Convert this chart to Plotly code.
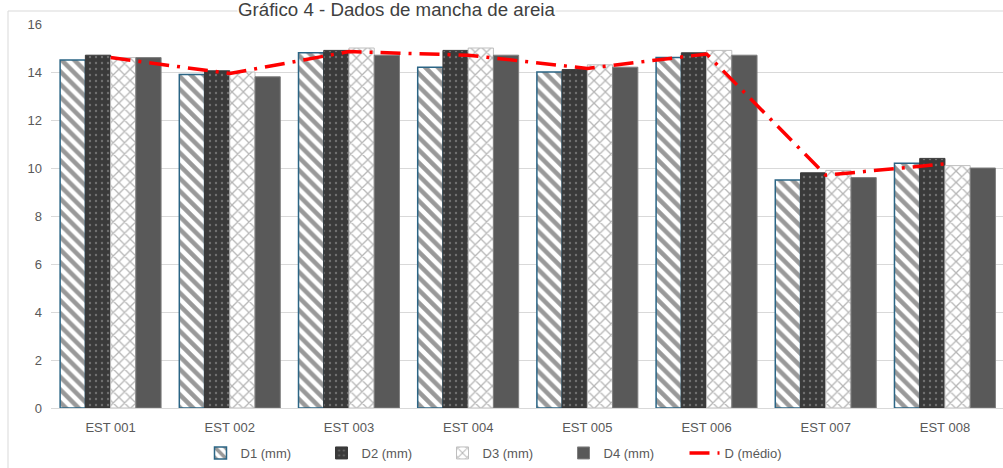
import plotly.graph_objects as go

# Station labels and measured diameters (mm)
estacoes = ["EST 001", "EST 002", "EST 003", "EST 004", "EST 005", "EST 006", "EST 007", "EST 008"]
d1 = [14.5, 13.9, 14.8, 14.2, 14.0, 14.6, 9.5, 10.2]
d2 = [14.7, 14.05, 14.9, 14.9, 14.1, 14.8, 9.8, 10.4]
d3 = [14.6, 14.0, 15.0, 15.0, 14.3, 14.9, 9.9, 10.1]
d4 = [14.6, 13.8, 14.7, 14.7, 14.2, 14.7, 9.6, 10.0]
d_medio = [round((a + b + c + d) / 4, 3) for a, b, c, d in zip(d1, d2, d3, d4)]

FONT = "Liberation Sans, Arial, sans-serif"
TXT = "#595959"

fig = go.Figure()

fig.add_trace(go.Bar(
    name="D1 (mm)", x=estacoes, y=d1,
    marker=dict(
        color="white",
        line=dict(color="#2B6585", width=1.5),
        pattern=dict(shape="\\", fgcolor="#333333", bgcolor="white", size=9, solidity=0.5),
    ),
))
fig.add_trace(go.Bar(
    name="D2 (mm)", x=estacoes, y=d2,
    marker=dict(
        color="#3A3A3A",
        line=dict(color="#3A3A3A", width=1),
        pattern=dict(shape=".", fgcolor="#A6A6A6", bgcolor="#3A3A3A", size=6, solidity=0.12),
    ),
))
fig.add_trace(go.Bar(
    name="D3 (mm)", x=estacoes, y=d3,
    marker=dict(
        color="white",
        line=dict(color="#BFBFBF", width=1),
        pattern=dict(shape="x", fgcolor="#6E6E6E", bgcolor="white", size=8, solidity=0.3),
    ),
))
fig.add_trace(go.Bar(
    name="D4 (mm)", x=estacoes, y=d4,
    marker=dict(color="#595959", line=dict(color="#7F7F7F", width=1)),
))
fig.add_trace(go.Scatter(
    name="D (médio)", x=estacoes, y=d_medio, mode="lines",
    line=dict(color="#FF0000", width=3.5, dash="20px,8px,3px,8px"),
))

# outer chart frame (partly cropped at the top/right)
L, R, T, B, H = 51, 1003, 24, 408, 468
def px_x(p):
    return (p - L) / (R - L)
def px_y(p):
    return (B - p) / (B - T)

fig.add_shape(type="rect", xref="paper", yref="paper",
              x0=px_x(8), x1=px_x(1012), y0=px_y(480), y1=px_y(11),
              line=dict(color="#D9D9D9", width=1), fillcolor="rgba(0,0,0,0)", layer="below")

fig.add_annotation(
    text="Gráfico 4 - Dados de mancha de areia",
    xref="paper", yref="paper", x=px_x(396), y=px_y(21),
    xanchor="center", yanchor="bottom", showarrow=False,
    font=dict(family=FONT, size=18.7, color="#404040"),
    bgcolor="white", borderpad=0,
)

fig.update_layout(
    width=1003, height=468,
    margin=dict(l=L, r=0, t=T, b=H - B, pad=0),
    paper_bgcolor="white", plot_bgcolor="white",
    font=dict(family=FONT, size=13, color=TXT),
    barmode="group", bargap=0.153, bargroupgap=0,
    showlegend=True,
    legend=dict(
        orientation="h", xanchor="center", yanchor="middle",
        x=px_x(503), y=px_y(453),
        font=dict(family=FONT, size=13, color=TXT),
        traceorder="normal", entrywidth=76, entrywidthmode="pixels",
    ),
    xaxis=dict(
        range=[-0.5, 7.487], showgrid=False, showline=False, ticks="",
        tickfont=dict(family=FONT, size=13, color=TXT), ticklabelstandoff=10,
    ),
    yaxis=dict(
        range=[0, 16], dtick=2, showgrid=True, gridcolor="#D9D9D9", gridwidth=1,
        zeroline=True, zerolinecolor="#D9D9D9", zerolinewidth=1,
        showline=False, ticks="", ticklabelstandoff=8,
        tickfont=dict(family=FONT, size=13, color=TXT),
    ),
)

fig.write_html("out.html")
